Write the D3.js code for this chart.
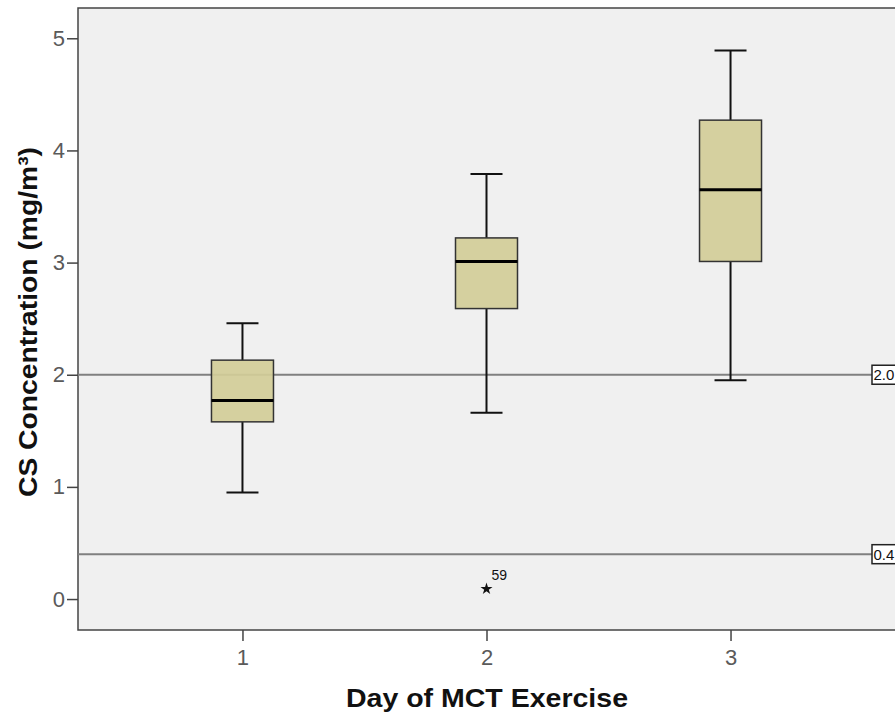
<!DOCTYPE html>
<html>
<head>
<meta charset="utf-8">
<script src="https://cdn.jsdelivr.net/npm/d3@7"></script>
<style>
  body { margin: 0; background: #fff; }
  text { font-family: "Liberation Sans", Arial, sans-serif; }
</style>
</head>
<body>
<div id="chart"></div>
<script>
var days = ["1", "2", "3"];
var whiskerLow = [0.95, 1.66, 1.95];
var q1 = [1.58, 2.59, 3.01];
var medians = [1.77, 3.01, 3.65];
var q3 = [2.13, 3.22, 4.27];
var whiskerHigh = [2.46, 3.79, 4.89];
var outlierDays = ["2"];
var outlierValues = [0.09];
var outlierLabels = ["59"];
var refLines = [2.0, 0.4];
var yTicks = [0, 1, 2, 3, 4, 5];

(function () {
  var width = 895, height = 716;
  var plotLeft = 78, plotTop = 8, plotRight = 895, plotBottom = 630;

  var svg = d3.select("#chart").append("svg")
    .attr("width", width)
    .attr("height", height);

  var x = d3.scalePoint().domain(days).range([plotLeft, plotRight]).padding(0.674);
  var y = d3.scaleLinear().domain([-0.276, 5.27]).range([plotBottom, plotTop]);

  // plot background, frame on left/top/bottom (right edge is cut off)
  svg.append("rect")
    .attr("x", plotLeft).attr("y", plotTop)
    .attr("width", plotRight - plotLeft).attr("height", plotBottom - plotTop)
    .attr("fill", "#f0f0f0");
  svg.append("path")
    .attr("d", "M" + (plotRight + 2) + "," + plotTop + "H" + plotLeft + "V" + plotBottom + "H" + (plotRight + 2))
    .attr("fill", "none")
    .attr("stroke", "#444").attr("stroke-width", 1.5);

  // reference lines
  svg.selectAll(".ref").data(refLines).enter().append("line")
    .attr("x1", plotLeft).attr("x2", plotRight)
    .attr("y1", function(d) { return y(d); })
    .attr("y2", function(d) { return y(d); })
    .attr("stroke", "#808080").attr("stroke-width", 2);

  var boxes = days.map(function(d, i) {
    return { day: d, lo: whiskerLow[i], q1: q1[i], med: medians[i], q3: q3[i], hi: whiskerHigh[i] };
  });

  var boxW = 62, capW = 32;
  var g = svg.selectAll(".box").data(boxes).enter().append("g").attr("class", "box");

  g.append("line")
    .attr("x1", function(d) { return x(d.day); }).attr("x2", function(d) { return x(d.day); })
    .attr("y1", function(d) { return y(d.hi); }).attr("y2", function(d) { return y(d.q3); })
    .attr("stroke", "#111").attr("stroke-width", 2);
  g.append("line")
    .attr("x1", function(d) { return x(d.day); }).attr("x2", function(d) { return x(d.day); })
    .attr("y1", function(d) { return y(d.q1); }).attr("y2", function(d) { return y(d.lo); })
    .attr("stroke", "#111").attr("stroke-width", 2);
  ["hi", "lo"].forEach(function(k) {
    g.append("line")
      .attr("x1", function(d) { return x(d.day) - capW / 2; })
      .attr("x2", function(d) { return x(d.day) + capW / 2; })
      .attr("y1", function(d) { return y(d[k]); }).attr("y2", function(d) { return y(d[k]); })
      .attr("stroke", "#111").attr("stroke-width", 2);
  });
  g.append("rect")
    .attr("x", function(d) { return x(d.day) - boxW / 2; })
    .attr("y", function(d) { return y(d.q3); })
    .attr("width", boxW)
    .attr("height", function(d) { return y(d.q1) - y(d.q3); })
    .attr("fill", "#d3cd98").attr("fill-opacity", 0.92)
    .attr("stroke", "#333").attr("stroke-width", 1.5);
  g.append("line")
    .attr("x1", function(d) { return x(d.day) - boxW / 2; })
    .attr("x2", function(d) { return x(d.day) + boxW / 2; })
    .attr("y1", function(d) { return y(d.med); }).attr("y2", function(d) { return y(d.med); })
    .attr("stroke", "#000").attr("stroke-width", 3);

  // outliers
  outlierDays.forEach(function(d, i) {
    svg.append("path")
      .attr("d", d3.symbol(d3.symbolStar, 45)())
      .attr("transform", "translate(" + x(d) + "," + y(outlierValues[i]) + ")")
      .attr("fill", "#111");
    svg.append("text")
      .attr("x", x(d) + 5).attr("y", y(outlierValues[i]) - 9)
      .attr("font-size", 14).attr("fill", "#111")
      .text(outlierLabels[i]);
  });

  // ref line labels
  refLines.forEach(function(d) {
    var lg = svg.append("g").attr("transform", "translate(" + (plotRight - 23) + "," + y(d) + ")");
    lg.append("rect").attr("x", 0).attr("y", -9.5).attr("width", 26).attr("height", 19)
      .attr("fill", "#fff").attr("stroke", "#222").attr("stroke-width", 1.5);
    lg.append("text").attr("x", 1.5).attr("y", 5.5).attr("font-size", 15).attr("fill", "#111")
      .text(d3.format(".1f")(d));
  });

  // axes
  var yAxis = svg.append("g")
    .attr("transform", "translate(" + plotLeft + ",0)")
    .call(d3.axisLeft(y).tickValues(yTicks).tickSize(11).tickPadding(2).tickFormat(d3.format("d")));
  var xAxis = svg.append("g")
    .attr("transform", "translate(0," + plotBottom + ")")
    .call(d3.axisBottom(x).tickSize(11).tickPadding(8));
  [yAxis, xAxis].forEach(function(a) {
    a.select(".domain").remove();
    a.selectAll("line").attr("stroke", "#444").attr("stroke-width", 1.5);
    a.selectAll("text").attr("font-size", 22).attr("fill", "#5a5a5a")
      .style("font-family", '"Liberation Sans", Arial, sans-serif');
  });

  // titles
  svg.append("text")
    .attr("x", 487).attr("y", 707)
    .attr("text-anchor", "middle")
    .attr("font-size", 25).attr("font-weight", "bold").attr("fill", "#111")
    .attr("textLength", 282).attr("lengthAdjust", "spacingAndGlyphs")
    .text("Day of MCT Exercise");
  svg.append("text")
    .attr("transform", "translate(37,322) rotate(-90)")
    .attr("text-anchor", "middle")
    .attr("font-size", 26).attr("font-weight", "bold").attr("fill", "#111")
    .attr("textLength", 350).attr("lengthAdjust", "spacingAndGlyphs")
    .text("CS Concentration (mg/m³)");
})();
</script>
</body>
</html>
